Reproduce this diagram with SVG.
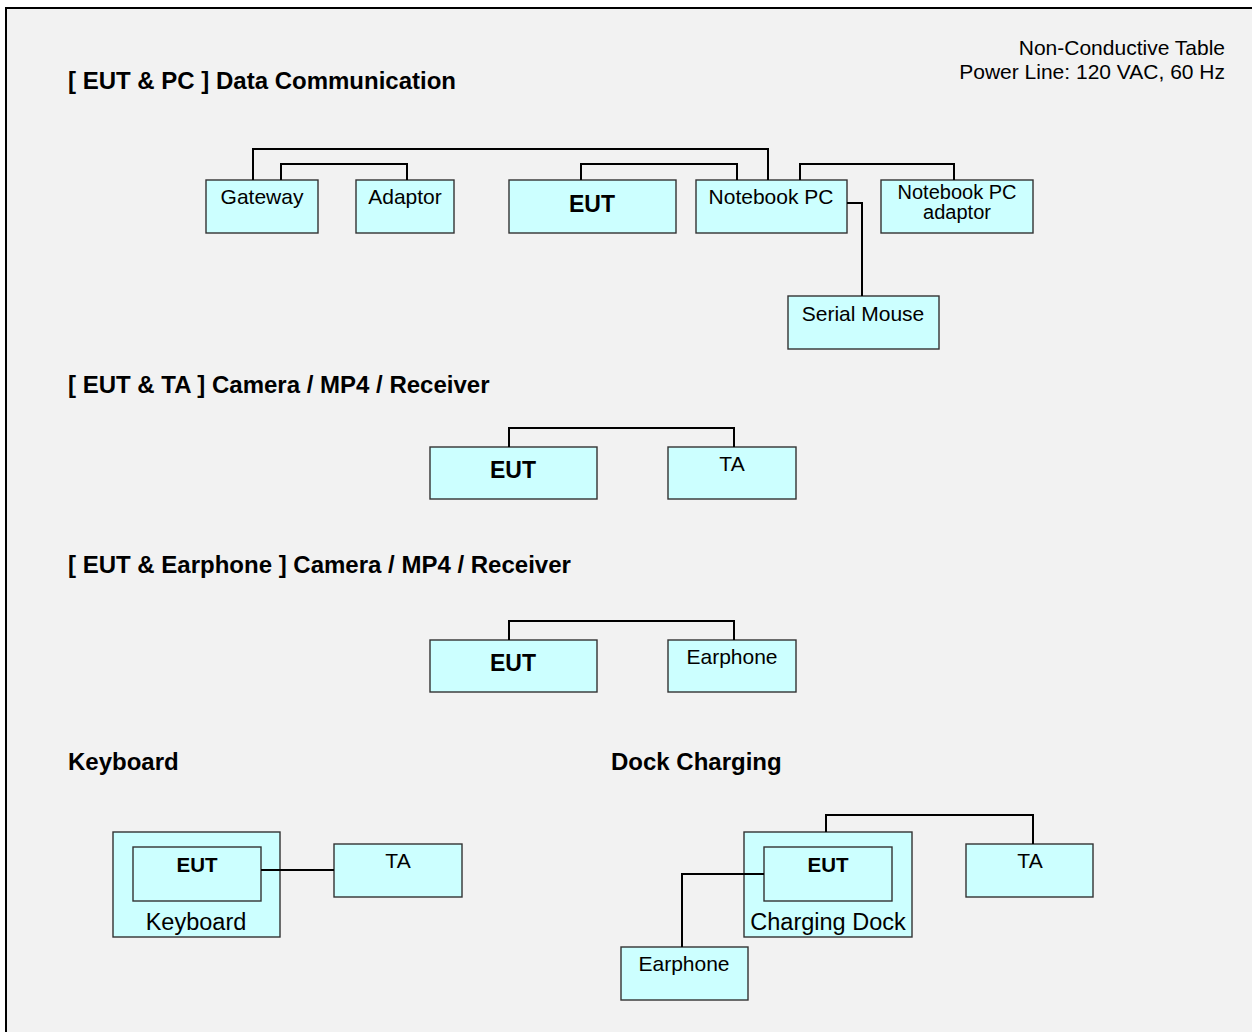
<svg xmlns="http://www.w3.org/2000/svg" width="1252" height="1032" viewBox="0 0 1252 1032">
  <style>
    .box { fill: #ccffff; stroke: #333333; stroke-width: 1.4; }
    .wire { fill: none; stroke: #000000; stroke-width: 2; }
    .lbl { font-family: "Liberation Sans", Arial, sans-serif; font-size: 21px; fill: #000; text-anchor: middle; }
    .lbl-2 { font-family: "Liberation Sans", Arial, sans-serif; font-size: 20px; fill: #000; text-anchor: middle; }
    .big { font-family: "Liberation Sans", Arial, sans-serif; font-size: 23.5px; fill: #000; text-anchor: middle; }
    .eut { font-family: "Liberation Sans", Arial, sans-serif; font-size: 23px; font-weight: bold; fill: #000; text-anchor: middle; }
    .eut-s { font-family: "Liberation Sans", Arial, sans-serif; font-size: 20.5px; font-weight: bold; fill: #000; text-anchor: middle; }
    .title { font-family: "Liberation Sans", Arial, sans-serif; font-size: 24px; font-weight: bold; fill: #000; }
    .note { font-family: "Liberation Sans", Arial, sans-serif; font-size: 21px; fill: #000; text-anchor: end; }
  </style>

  <!-- page -->
  <rect x="0" y="0" width="1252" height="1032" fill="#ffffff"/>
  <rect x="6" y="8" width="1260" height="1040" fill="#f2f2f2" stroke="#000" stroke-width="2"/>

  <!-- headings -->
  <g id="headings">
    <text class="title" x="68" y="89">[ EUT &amp; PC ] Data Communication</text>
    <text class="title" x="68" y="393">[ EUT &amp; TA ] Camera / MP4 / Receiver</text>
    <text class="title" x="68" y="573">[ EUT &amp; Earphone ] Camera / MP4 / Receiver</text>
    <text class="title" x="68" y="770">Keyboard</text>
    <text class="title" x="611" y="770">Dock Charging</text>
    <text class="note" x="1225" y="55">Non-Conductive Table</text>
    <text class="note" x="1225" y="79">Power Line: 120 VAC, 60 Hz</text>
  </g>

  <!-- data communication nodes -->
  <g id="gateway">
    <rect class="box" x="206" y="180" width="112" height="53"/>
    <text class="lbl" x="262" y="204">Gateway</text>
  </g>
  <g id="adaptor">
    <rect class="box" x="356" y="180" width="98" height="53"/>
    <text class="lbl" x="405" y="204">Adaptor</text>
  </g>
  <g id="eut-pc">
    <rect class="box" x="509" y="180" width="167" height="53"/>
    <text class="eut" x="592" y="212">EUT</text>
  </g>
  <g id="notebook-pc">
    <rect class="box" x="696" y="180" width="151" height="53"/>
    <text class="lbl" x="771" y="204">Notebook PC</text>
  </g>
  <g id="notebook-pc-adaptor">
    <rect class="box" x="881" y="180" width="152" height="53"/>
    <text class="lbl-2" x="957" y="199">Notebook PC</text>
    <text class="lbl-2" x="957" y="219">adaptor</text>
  </g>
  <g id="serial-mouse">
    <rect class="box" x="788" y="296" width="151" height="53"/>
    <text class="lbl" x="863" y="321">Serial Mouse</text>
  </g>

  <!-- EUT & TA nodes -->
  <g id="eut-ta">
    <rect class="box" x="430" y="447" width="167" height="52"/>
    <text class="eut" x="513" y="478">EUT</text>
  </g>
  <g id="ta-1">
    <rect class="box" x="668" y="447" width="128" height="52"/>
    <text class="lbl" x="732" y="471">TA</text>
  </g>

  <!-- EUT & Earphone nodes -->
  <g id="eut-earphone">
    <rect class="box" x="430" y="640" width="167" height="52"/>
    <text class="eut" x="513" y="671">EUT</text>
  </g>
  <g id="earphone-1">
    <rect class="box" x="668" y="640" width="128" height="52"/>
    <text class="lbl" x="732" y="664">Earphone</text>
  </g>

  <!-- keyboard nodes -->
  <g id="keyboard">
    <rect class="box" x="113" y="832" width="167" height="105"/>
    <text class="big" x="196" y="930">Keyboard</text>
    <g id="eut-keyboard">
      <rect class="box" x="133" y="847" width="128" height="54"/>
      <text class="eut-s" x="197" y="872">EUT</text>
    </g>
  </g>
  <g id="ta-2">
    <rect class="box" x="334" y="844" width="128" height="53"/>
    <text class="lbl" x="398" y="868">TA</text>
  </g>

  <!-- dock charging nodes -->
  <g id="charging-dock">
    <rect class="box" x="744" y="832" width="168" height="105"/>
    <text class="big" x="828" y="930">Charging Dock</text>
    <g id="eut-dock">
      <rect class="box" x="764" y="847" width="128" height="54"/>
      <text class="eut-s" x="828" y="872">EUT</text>
    </g>
  </g>
  <g id="ta-3">
    <rect class="box" x="966" y="844" width="127" height="53"/>
    <text class="lbl" x="1030" y="868">TA</text>
  </g>
  <g id="earphone-2">
    <rect class="box" x="621" y="947" width="127" height="53"/>
    <text class="lbl" x="684" y="971">Earphone</text>
  </g>

  <!-- connectors (drawn last so cables crossing the dock/keyboard frames stay visible) -->
  <g id="connectors">
    <!-- data communication setup -->
    <polyline class="wire" points="253,180 253,149 768,149 768,180"/>
    <polyline class="wire" points="281,180 281,164 407,164 407,180"/>
    <polyline class="wire" points="581,180 581,164 737,164 737,180"/>
    <polyline class="wire" points="800,180 800,164 954,164 954,180"/>
    <polyline class="wire" points="847,203 862,203 862,296"/>
    <!-- EUT & TA -->
    <polyline class="wire" points="509,447 509,428 734,428 734,447"/>
    <!-- EUT & Earphone -->
    <polyline class="wire" points="509,640 509,621 734,621 734,640"/>
    <!-- keyboard -->
    <line class="wire" x1="261" y1="870" x2="334" y2="870" stroke-width="1.6"/>
    <!-- dock charging -->
    <polyline class="wire" points="826,832 826,815 1033,815 1033,844"/>
    <polyline class="wire" points="764,874 682,874 682,947" stroke-width="1.6"/>
  </g>
</svg>
